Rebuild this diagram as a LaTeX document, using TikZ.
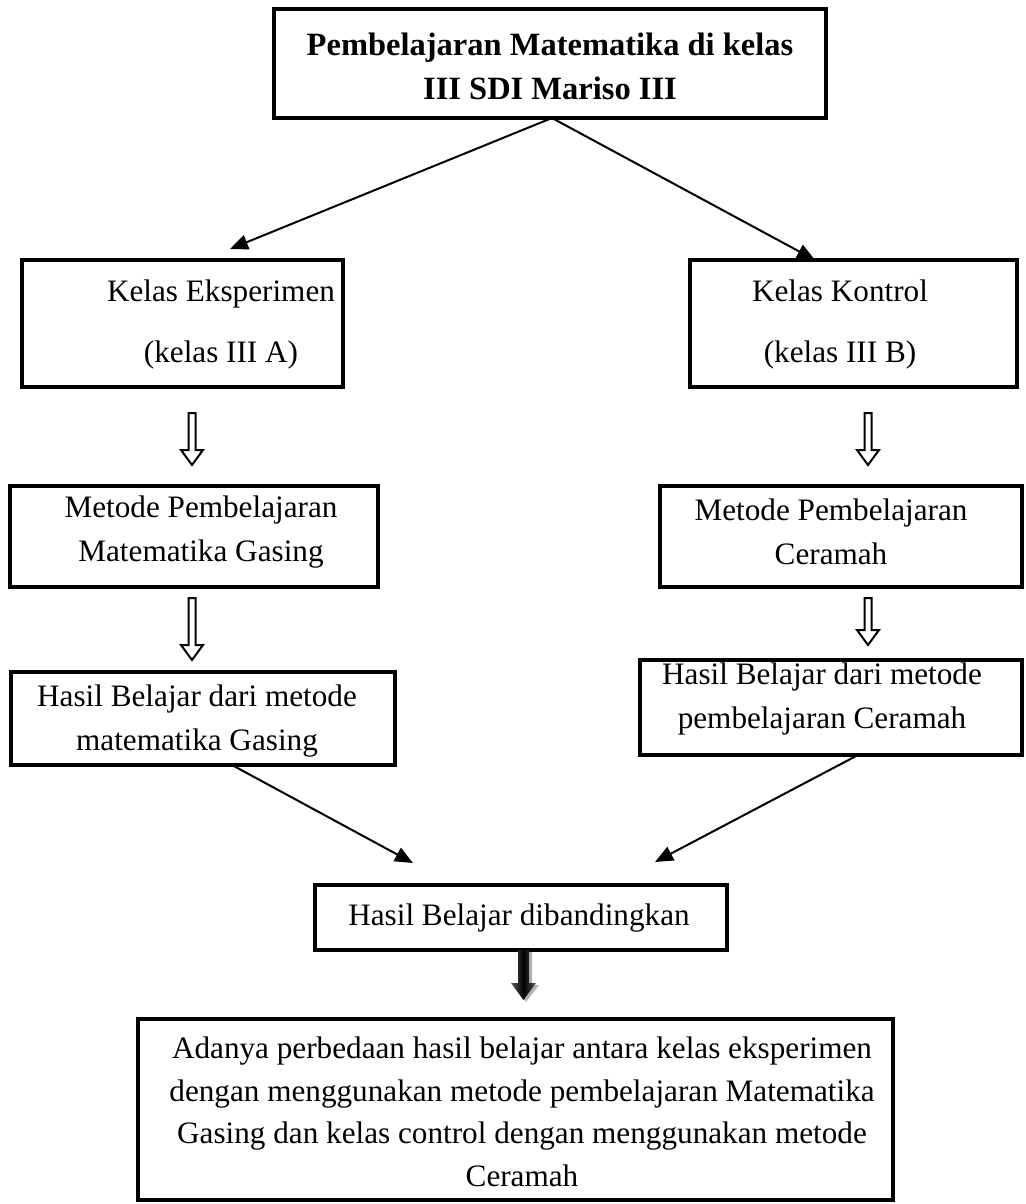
\documentclass[tikz,border=0pt]{standalone}
\usepackage{fontspec}
\setmainfont{Liberation Serif}
\usetikzlibrary{arrows.meta,calc}
\newcommand{\hollowarr}[3]{%
  \draw[hollow] (#1-3.5,#2) -- (#1+3.5,#2) -- (#1+3.5,#3-15) -- (#1+11,#3-15) -- (#1,#3) -- (#1-11,#3-15) -- (#1-3.5,#3-15) -- cycle;}
\begin{document}
\begin{tikzpicture}[x=1pt,y=-1pt,
  box/.style={draw, line width=4pt, inner sep=0pt},
  txt/.style={align=center, font=\fontsize{31.2}{44.5}\selectfont, inner sep=0pt},
  conn/.style={line width=2pt, -{Triangle[length=18pt,width=15pt]}},
  hollow/.style={line width=2pt, fill=white, line join=miter}]
\useasboundingbox (0,0) rectangle (1025,1204);
\fill[white] (0,0) rectangle (1025,1204);
% boxes
\node[box, minimum width=552pt, minimum height=109pt] (A) at (550,63.5) {};
\node[box, minimum width=321pt, minimum height=127pt] (B) at (182.5,323.5) {};
\node[box, minimum width=327pt, minimum height=127pt] (C) at (853.5,323.5) {};
\node[box, minimum width=368pt, minimum height=101pt] (D) at (194,536.5) {};
\node[box, minimum width=362pt, minimum height=101pt] (E) at (841,536.5) {};
\node[box, minimum width=384pt, minimum height=93pt] (F) at (203,718.5) {};
\node[box, minimum width=382pt, minimum height=95pt] (G) at (831,707.5) {};
\node[box, minimum width=412pt, minimum height=65pt] (H) at (521,917.5) {};
\node[box, minimum width=755pt, minimum height=181pt] (I) at (515.5,1109.5) {};
% texts
\node[txt, font=\bfseries\fontsize{32.5}{44}\selectfont] (tA) at (550,66) {Pembelajaran Matematika di kelas\\III SDI Mariso III};
\node[txt] (tB) at (221,324) {Kelas Eksperimen\\[16.5pt](kelas III A)};
\node[txt] (tC) at (840,324) {Kelas Kontrol\\[16.5pt](kelas III B)};
\node[txt] (tD) at (201,532) {Metode Pembelajaran\\Matematika Gasing};
\node[txt] (tE) at (831,532) {Metode Pembelajaran\\Ceramah};
\node[txt] (tF) at (197,721) {Hasil Belajar dari metode\\matematika Gasing};
\node[txt] (tG) at (822,699) {Hasil Belajar dari metode\\pembelajaran Ceramah};
\node[txt] (tH) at (519,918) {Hasil Belajar dibandingkan};
\node[txt, font=\fontsize{31.2}{42.5}\selectfont] (tI) at (522,1112) {Adanya perbedaan hasil belajar antara kelas eksperimen\\dengan menggunakan metode pembelajaran Matematika\\Gasing dan kelas control dengan menggunakan metode\\Ceramah};
% connectors
\coordinate (apex) at (552,118);
\coordinate (bin) at (230,249);
\coordinate (cin) at (815,260);
\coordinate (fout) at (232,765);
\coordinate (gout) at (858,755);
\coordinate (hl) at (413,863);
\coordinate (hr) at (655,862);
\draw[conn] (apex) -- (bin);
\draw[conn] (apex) -- (cin);
\draw[conn] (fout) -- (hl);
\draw[conn] (gout) -- (hr);
% hollow arrows
\hollowarr{192}{413}{465}
\hollowarr{868}{413}{465}
\hollowarr{192}{598}{660}
\hollowarr{868}{598}{645}
% dark arrow
\fill[gray!60] (520,952) -- (532,952) -- (532,985) -- (539,985) -- (526,1002) -- (513,985) -- (520,985) -- cycle;
\shade[left color=black!65, right color=black!65, middle color=black] (518,950) -- (529,950) -- (529,983) -- (536,983) -- (523.5,1000) -- (511,983) -- (518,983) -- cycle;
\end{tikzpicture}
\end{document}
